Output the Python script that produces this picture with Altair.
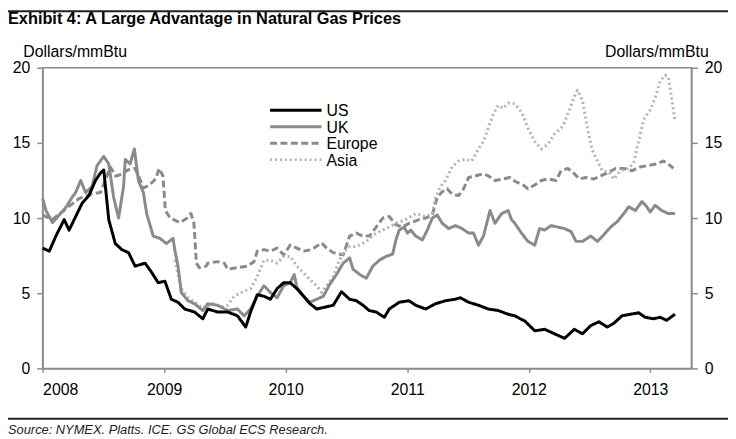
import altair as alt
import pandas as pd

TITLE = "Exhibit 4: A Large Advantage in Natural Gas Prices"
SOURCE = "Source: NYMEX. Platts. ICE. GS Global ECS Research."
Y_TITLE = "Dollars/mmBtu"
SERIES = ["US", "UK", "Europe", "Asia"]
X_TICKS = [2008, 2009, 2010, 2011, 2012, 2013]
Y_TICKS = [0, 5, 10, 15, 20]

us = [(2008.000, 8.0), (2008.055, 7.8), (2008.109, 8.8), (2008.177, 9.9), (2008.218, 9.2),
      (2008.272, 10.1), (2008.326, 11.0), (2008.381, 11.5), (2008.435, 12.5), (2008.476, 13.0),
      (2008.503, 13.2), (2008.544, 9.9), (2008.598, 8.3), (2008.652, 7.9), (2008.707, 7.7),
      (2008.761, 6.8), (2008.843, 7.0), (2008.896, 6.4), (2008.951, 5.7), (2009.006, 5.8),
      (2009.059, 4.6), (2009.114, 4.4), (2009.169, 3.95), (2009.250, 3.75), (2009.318, 3.3),
      (2009.359, 3.95), (2009.440, 3.75), (2009.522, 3.75), (2009.603, 3.5), (2009.671, 2.75),
      (2009.711, 3.75), (2009.766, 4.9), (2009.821, 4.8), (2009.874, 4.6), (2009.929, 5.3),
      (2009.984, 5.7), (2010.037, 5.7), (2010.092, 5.3), (2010.147, 4.8), (2010.200, 4.3),
      (2010.255, 3.95), (2010.337, 4.1), (2010.391, 4.2), (2010.459, 5.1), (2010.526, 4.6),
      (2010.581, 4.5), (2010.636, 4.2), (2010.687, 3.85), (2010.744, 3.75), (2010.812, 3.4),
      (2010.852, 3.95), (2010.934, 4.4), (2011.015, 4.5), (2011.070, 4.2), (2011.151, 3.95),
      (2011.233, 4.3), (2011.315, 4.5), (2011.396, 4.6), (2011.437, 4.7), (2011.505, 4.4),
      (2011.586, 4.2), (2011.667, 3.95), (2011.749, 3.85), (2011.830, 3.6), (2011.885, 3.5),
      (2011.930, 3.3), (2011.968, 3.15), (2012.049, 2.5), (2012.131, 2.6), (2012.212, 2.3),
      (2012.294, 2.0), (2012.375, 2.6), (2012.442, 2.3), (2012.510, 2.85), (2012.578, 3.1),
      (2012.645, 2.75), (2012.700, 3.0), (2012.767, 3.5), (2012.836, 3.6), (2012.904, 3.7),
      (2012.958, 3.4), (2013.026, 3.3), (2013.081, 3.4), (2013.134, 3.2), (2013.203, 3.6)]

uk = [(2008.000, 11.3), (2008.028, 10.5), (2008.081, 9.7), (2008.136, 10.2), (2008.191, 10.7),
      (2008.244, 11.4), (2008.272, 11.7), (2008.313, 12.5), (2008.354, 11.7), (2008.407, 12.1),
      (2008.448, 13.5), (2008.503, 14.1), (2008.544, 13.6), (2008.584, 11.4), (2008.625, 10.0),
      (2008.666, 12.1), (2008.680, 13.9), (2008.720, 13.6), (2008.755, 14.6), (2008.788, 12.5),
      (2008.829, 11.7), (2008.856, 10.3), (2008.910, 8.8), (2008.965, 8.65), (2009.019, 8.3),
      (2009.073, 8.65), (2009.087, 7.9), (2009.114, 6.8), (2009.141, 5.05), (2009.196, 4.5),
      (2009.250, 4.3), (2009.318, 3.85), (2009.359, 4.3), (2009.440, 4.2), (2009.522, 3.85),
      (2009.603, 3.95), (2009.658, 3.5), (2009.711, 3.95), (2009.766, 4.8), (2009.821, 5.5),
      (2009.874, 5.05), (2009.929, 4.7), (2009.984, 5.5), (2010.037, 5.7), (2010.070, 6.25),
      (2010.092, 5.4), (2010.147, 4.8), (2010.200, 4.4), (2010.255, 4.6), (2010.310, 4.8),
      (2010.363, 5.6), (2010.418, 6.25), (2010.473, 7.0), (2010.526, 7.35), (2010.554, 6.6),
      (2010.608, 6.25), (2010.663, 6.0), (2010.717, 6.8), (2010.771, 7.2), (2010.826, 7.45),
      (2010.880, 7.6), (2010.907, 8.55), (2010.934, 9.2), (2010.975, 9.4), (2011.002, 9.0),
      (2011.029, 9.2), (2011.070, 8.8), (2011.125, 8.55), (2011.165, 9.2), (2011.206, 10.0),
      (2011.247, 10.2), (2011.288, 9.65), (2011.341, 9.3), (2011.396, 9.5), (2011.451, 9.3),
      (2011.505, 9.0), (2011.545, 9.0), (2011.586, 8.2), (2011.627, 8.8), (2011.681, 10.5),
      (2011.722, 9.65), (2011.777, 10.3), (2011.830, 10.5), (2011.858, 9.9), (2011.885, 9.65),
      (2011.940, 9.0), (2011.993, 8.45), (2012.049, 8.2), (2012.089, 9.3), (2012.131, 9.2),
      (2012.184, 9.5), (2012.238, 9.4), (2012.294, 9.3), (2012.348, 9.1), (2012.389, 8.45),
      (2012.442, 8.45), (2012.510, 8.8), (2012.565, 8.45), (2012.619, 8.9), (2012.673, 9.4),
      (2012.727, 9.75), (2012.782, 10.3), (2012.822, 10.75), (2012.877, 10.5), (2012.931, 11.1),
      (2012.971, 10.75), (2012.999, 10.4), (2013.040, 10.85), (2013.094, 10.5), (2013.148, 10.3),
      (2013.203, 10.3)]

europe = [(2008.000, 10.2), (2008.080, 9.9), (2008.190, 10.6), (2008.300, 11.3), (2008.400, 11.6),
          (2008.476, 11.7), (2008.520, 12.6), (2008.557, 13.4), (2008.600, 12.8), (2008.650, 12.9),
          (2008.700, 13.2), (2008.760, 13.3), (2008.800, 12.6), (2008.830, 12.0), (2008.880, 12.2),
          (2008.930, 12.6), (2008.960, 13.3), (2008.990, 12.8), (2009.010, 10.5), (2009.050, 10.0),
          (2009.130, 9.7), (2009.190, 10.0), (2009.220, 10.3), (2009.245, 9.65), (2009.265, 7.0),
          (2009.290, 6.7), (2009.345, 6.8), (2009.359, 7.0), (2009.440, 7.1), (2009.495, 7.0),
          (2009.522, 6.6), (2009.603, 6.7), (2009.685, 6.8), (2009.739, 7.1), (2009.766, 7.8),
          (2009.821, 7.9), (2009.874, 7.8), (2009.929, 8.0), (2009.984, 7.55), (2010.037, 8.2),
          (2010.092, 8.0), (2010.147, 7.8), (2010.214, 7.9), (2010.296, 8.35), (2010.337, 8.0),
          (2010.391, 7.7), (2010.473, 7.55), (2010.526, 8.8), (2010.581, 9.0), (2010.636, 8.8),
          (2010.689, 8.8), (2010.744, 9.4), (2010.799, 10.0), (2010.852, 10.1), (2010.907, 9.55),
          (2010.962, 9.4), (2011.015, 9.65), (2011.097, 9.9), (2011.151, 10.0), (2011.206, 10.2),
          (2011.247, 11.4), (2011.288, 11.75), (2011.328, 11.95), (2011.369, 11.6), (2011.423, 11.5),
          (2011.464, 11.95), (2011.505, 12.7), (2011.559, 12.8), (2011.627, 12.95), (2011.667, 12.8),
          (2011.722, 12.5), (2011.790, 12.6), (2011.844, 12.7), (2011.885, 12.45), (2011.953, 12.2),
          (2011.993, 11.95), (2012.049, 12.2), (2012.103, 12.5), (2012.157, 12.6), (2012.225, 12.5),
          (2012.266, 13.15), (2012.321, 13.3), (2012.375, 12.95), (2012.415, 12.6), (2012.470, 12.7),
          (2012.537, 12.6), (2012.592, 12.8), (2012.660, 13.05), (2012.714, 13.3), (2012.782, 13.3),
          (2012.850, 13.15), (2012.918, 13.4), (2012.985, 13.5), (2013.053, 13.6), (2013.108, 13.8),
          (2013.162, 13.5), (2013.189, 13.3)]

asia = [(2009.087, 7.2), (2009.141, 5.3), (2009.196, 4.7), (2009.250, 4.4), (2009.318, 4.0),
        (2009.399, 4.3), (2009.481, 4.1), (2009.522, 4.2), (2009.576, 4.8), (2009.658, 5.15),
        (2009.711, 5.3), (2009.766, 6.1), (2009.821, 7.2), (2009.874, 7.2), (2009.929, 7.0),
        (2009.984, 7.45), (2010.037, 7.45), (2010.092, 6.8), (2010.147, 6.35), (2010.200, 5.9),
        (2010.255, 5.5), (2010.296, 5.05), (2010.337, 5.5), (2010.391, 6.1), (2010.432, 7.0),
        (2010.473, 7.7), (2010.526, 8.1), (2010.581, 8.1), (2010.663, 8.45), (2010.744, 9.0),
        (2010.826, 9.3), (2010.907, 9.65), (2010.988, 9.9), (2011.070, 10.3), (2011.151, 10.1),
        (2011.206, 10.3), (2011.233, 11.4), (2011.274, 12.1), (2011.315, 12.5), (2011.369, 13.4),
        (2011.423, 13.8), (2011.478, 13.9), (2011.532, 13.8), (2011.586, 14.6), (2011.627, 15.1),
        (2011.667, 16.0), (2011.708, 16.9), (2011.749, 17.5), (2011.790, 17.3), (2011.830, 17.65),
        (2011.885, 17.6), (2011.940, 17.05), (2011.993, 16.0), (2012.049, 15.1), (2012.103, 14.6),
        (2012.157, 14.9), (2012.212, 15.6), (2012.280, 16.1), (2012.335, 17.2), (2012.375, 18.1),
        (2012.401, 18.5), (2012.442, 17.8), (2012.482, 16.0), (2012.523, 14.5), (2012.565, 13.8),
        (2012.605, 13.15), (2012.660, 13.05), (2012.700, 12.6), (2012.755, 13.15), (2012.822, 13.3),
        (2012.863, 13.7), (2012.904, 15.1), (2012.945, 16.55), (2012.999, 17.2), (2013.040, 18.0),
        (2013.081, 19.1), (2013.121, 19.5), (2013.148, 19.4), (2013.175, 18.0), (2013.203, 16.45)]

COLORS = ["#000000", "#8a8a8a", "#8a8a8a", "#b2b2b2"]
DASHES = [[1, 0], [1, 0], [7, 3.5], [2, 3]]
WIDTHS = [3, 3, 3, 2.5]
FONT = "Liberation Sans"
AXIS_GRAY = "#8c8c8c"

rows = []
for name, pts in [("Europe", europe), ("Asia", asia), ("UK", uk), ("US", us)]:
    for t, v in pts:
        rows.append({"series": name, "t": t, "v": v})
df = pd.DataFrame(rows)

W, H = 656, 304

color = alt.Color("series:N", scale=alt.Scale(domain=SERIES, range=COLORS), legend=None)
dash = alt.StrokeDash("series:N", scale=alt.Scale(domain=SERIES, range=DASHES), legend=None)
width = alt.StrokeWidth("series:N", scale=alt.Scale(domain=SERIES, range=WIDTHS), legend=None)

x_enc = alt.X("t:Q", scale=alt.Scale(domain=[2008, 2013.338], nice=False, zero=False),
              axis=alt.Axis(values=X_TICKS, format="d", title=None, tickSize=4, labelPadding=9))


def y_axis(orient, tx, align):
    return alt.Axis(orient=orient, values=Y_TICKS, title=Y_TITLE, titleAngle=0, titleX=tx,
                    titleY=-16, titleAlign=align, titleBaseline="middle", titleFont=FONT,
                    titleFontSize=16, titleFontWeight="normal", titleColor="#000000")


left = alt.Chart(df).transform_filter(
    alt.FieldOneOfPredicate(field="series", oneOf=["Europe", "Asia"])
).mark_line(strokeJoin="round").encode(
    x=x_enc,
    y=alt.Y("v:Q", scale=alt.Scale(domain=[0, 20], nice=False), axis=y_axis("left", -20, "left")),
    color=color, strokeDash=dash, strokeWidth=width, detail="series:N",
)

right = alt.Chart(df).transform_filter(
    alt.FieldOneOfPredicate(field="series", oneOf=["UK", "US"])
).mark_line(strokeJoin="round").encode(
    x=x_enc,
    y=alt.Y("v:Q", scale=alt.Scale(domain=[0, 20], nice=False), axis=y_axis("right", 17, "right")),
    color=color, strokeDash=dash, strokeWidth=width, detail="series:N",
)

one = pd.DataFrame({"title": [TITLE], "source": [SOURCE]})

title_txt = alt.Chart(one).mark_text(align="left", baseline="alphabetic", font=FONT,
                                     fontSize=16.5, fontWeight="bold", color="#000000").encode(
    x=alt.value(-35), y=alt.value(-44), text="title:N")

source_txt = alt.Chart(one).mark_text(align="left", baseline="middle", font=FONT,
                                      fontSize=13, fontStyle="italic", color="#222222").encode(
    x=alt.value(-35), y=alt.value(366), text="source:N")

top_line = alt.Chart(one).mark_rule(color="#222222", strokeWidth=2).encode(
    x=alt.value(-35), x2=alt.value(693), y=alt.value(-57))

bottom_line = alt.Chart(one).mark_rule(color="#222222", strokeWidth=2).encode(
    x=alt.value(-35), x2=alt.value(693), y=alt.value(355))

# manual legend (inside the plot, top-left of centre)
LEG_X, LEG_LEN, LEG_Y0, LEG_DY = 230, 52, 43, 16.7
legend_layers = []
for i, name in enumerate(SERIES):
    ly = LEG_Y0 + i * LEG_DY
    lab = pd.DataFrame({"label": [name]})
    legend_layers.append(
        alt.Chart(lab).mark_rule(color=COLORS[i], strokeWidth=WIDTHS[i], strokeDash=DASHES[i]).encode(
            x=alt.value(LEG_X), x2=alt.value(LEG_X + LEG_LEN), y=alt.value(ly))
    )
    legend_layers.append(
        alt.Chart(lab).mark_text(align="left", baseline="middle", font=FONT, fontSize=16,
                                 color="#000000").encode(
            x=alt.value(LEG_X + LEG_LEN + 5), y=alt.value(ly + 1), text="label:N")
    )

chart = alt.layer(left, right, title_txt, source_txt, top_line, bottom_line,
                  *legend_layers).resolve_scale(
    y="independent"
).properties(
    width=W, height=H,
    padding={"left": 35, "top": 58, "right": 37, "bottom": 69},
    autosize=alt.AutoSizeParams(type="none"),
).configure_view(
    stroke=AXIS_GRAY, strokeWidth=1.5
).configure_axis(
    grid=False, labelFont=FONT, labelFontSize=16, labelColor="#000000",
    domainColor=AXIS_GRAY, domainWidth=1.5, tickColor=AXIS_GRAY, tickWidth=1.5,
    tickSize=6, labelPadding=7,
)

chart.save("out.html", embed_options={"renderer": "svg", "actions": False})
